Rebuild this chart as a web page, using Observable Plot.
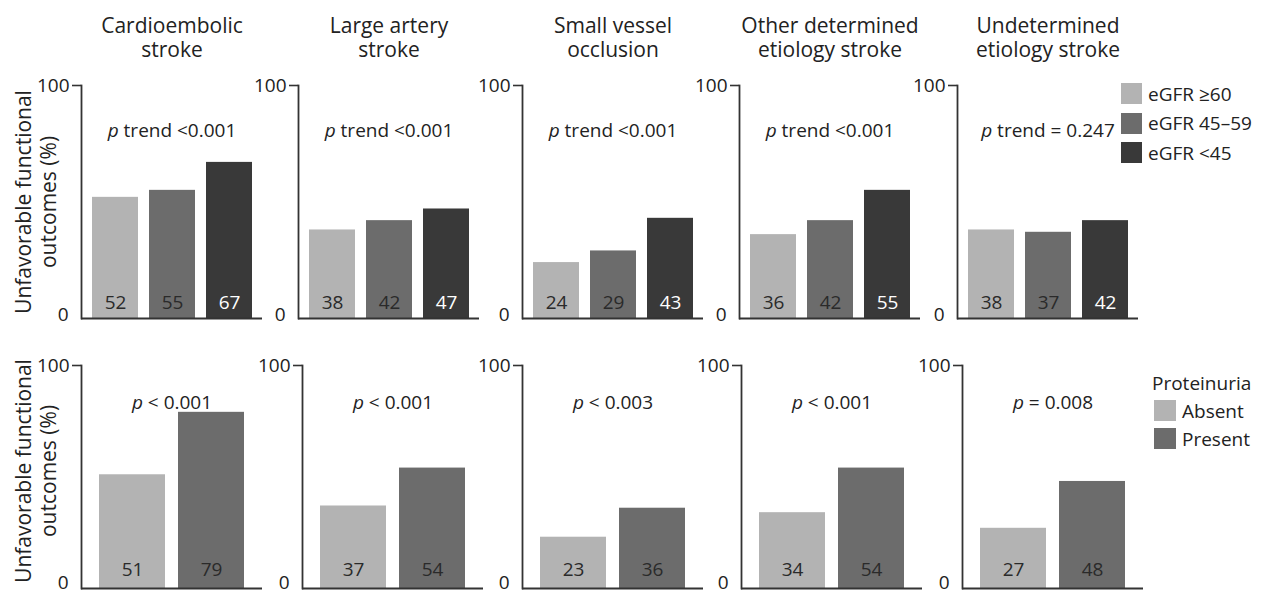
<!DOCTYPE html>
<html><head><meta charset="utf-8">
<script src="https://cdn.jsdelivr.net/npm/d3@7"></script>
<script src="https://cdn.jsdelivr.net/npm/@observablehq/plot@0.6"></script>
<style>
body{margin:0;background:#fff;}
#chart{position:relative;width:1261px;height:592px;overflow:hidden;font-family:"Open Sans",sans-serif;color:#222;background:#fff;}
#chart svg{position:absolute;}
.legtitle{position:absolute;font-size:19px;line-height:26px;white-space:nowrap;}
.legitem{position:absolute;display:flex;align-items:center;font-size:19px;white-space:nowrap;}
.legitem .sw{display:inline-block;margin-right:6px;}
</style></head><body><div id="chart"></div>
<script>
// ---- data ----
const etiologies = ["Cardioembolic\nstroke", "Large artery\nstroke", "Small vessel\nocclusion", "Other determined\netiology stroke", "Undetermined\netiology stroke"];
const egfrGroups = ["eGFR ≥60", "eGFR 45–59", "eGFR <45"];
const egfrValues = [[52, 55, 67], [38, 42, 47], [24, 29, 43], [36, 42, 55], [38, 37, 42]];
const egfrP = ["p trend <0.001", "p trend <0.001", "p trend <0.001", "p trend <0.001", "p trend = 0.247"];
const protTitle = "Proteinuria";
const protGroups = ["Absent", "Present"];
const protValues = [[51, 79], [37, 54], [23, 36], [34, 54], [27, 48]];
const protP = ["p < 0.001", "p < 0.001", "p < 0.003", "p < 0.001", "p = 0.008"];
const yTicks = [0, 100];
const yLabel = "Unfavorable functional\noutcomes (%)";

// ---- styles / layout ----
const egfrColors = ["#b3b3b3", "#6c6c6c", "#393939"];
const protColors = ["#b3b3b3", "#6c6c6c"];
const topAxisX = [81, 298, 522, 739, 957];
const botAxisX = [81, 302, 522, 741, 962];
const ML = 81, FW = 181, MR = 40;
const chart = document.getElementById("chart");

function panel(cfg) {
  const data = cfg.groups.map((g, i) => ({group: g, value: cfg.values[i]}));
  const dark = cfg.groups[2];
  const marks = [
    Plot.barY(data, {x: "group", y: "value", fill: "group"}),
    Plot.text(data.filter(d => d.group !== dark), {x: "group", y: 0, text: d => String(d.value), dy: cfg.valueDy, fill: "#2a2a2a", fontSize: 19}),
    Plot.text(data.filter(d => d.group === dark), {x: "group", y: 0, text: d => String(d.value), dy: cfg.valueDy, fill: "white", fontSize: 19}),
    Plot.ruleY([yTicks[0]], {stroke: "#333", strokeWidth: 1.8}),
    Plot.frame({anchor: "left", stroke: "#333", strokeWidth: 1.8}),
    Plot.axisY({ticks: [yTicks[1]], tickSize: 9, tickPadding: 3, label: null, fontSize: 19, stroke: "#333", strokeWidth: 1.6}),
    Plot.axisY({ticks: [yTicks[0]], tickSize: 0, tickPadding: 13, label: null, fontSize: 19, dy: cfg.zeroDy}),
    Plot.text([cfg.pText], {frameAnchor: "top", dy: cfg.pDy, fontSize: 19, className: "pval", ariaLabel: "p-value"})
  ];
  if (cfg.title) marks.push(Plot.text([cfg.title], {frameAnchor: "top", dy: -48, lineAnchor: "middle", fontSize: 21, lineHeight: 1.12, fill: "#222"}));
  if (cfg.yLabel) marks.push(Plot.text([cfg.yLabel], {frameAnchor: "left", rotate: -90, textAnchor: "middle", lineAnchor: "middle", dx: -46.5, dy: cfg.yLabelDy, fontSize: 21, lineHeight: 1.19, fill: "#222"}));
  const svg = Plot.plot({
    width: ML + FW + MR,
    height: cfg.marginTop + cfg.plotH + cfg.marginBottom,
    marginLeft: ML, marginRight: MR, marginTop: cfg.marginTop, marginBottom: cfg.marginBottom,
    style: {background: "transparent", fontFamily: '"Open Sans", sans-serif', fontSize: "19px", color: "#222", overflow: "visible"},
    x: {domain: cfg.groups, axis: null, paddingInner: cfg.pi, paddingOuter: cfg.po},
    y: {domain: [yTicks[0], yTicks[1]]},
    color: {domain: cfg.groups, range: cfg.colors},
    marks
  });
  const sel = d3.select(svg).selectAll('text[aria-label="p-value"], g[aria-label="p-value"] text, .pval text, text.pval');
  sel.each(function () {
    const t = this.textContent;
    const sp = t.indexOf(" ");
    if (sp < 0) return;
    this.textContent = "";
    d3.select(this).append("tspan").attr("font-style", "italic").style("font-style", "italic").text(t.slice(0, sp));
    d3.select(this).append("tspan").text(t.slice(sp));
  });
  svg.style.left = (cfg.axisX - ML) + "px";
  svg.style.top = cfg.top + "px";
  chart.appendChild(svg);
}

etiologies.forEach((e, i) => {
  panel({title: e, groups: egfrGroups, values: egfrValues[i], pText: egfrP[i], colors: egfrColors,
    axisX: topAxisX[i], top: 0, marginTop: 85, plotH: 233, marginBottom: 10, pi: 0.193, po: 0.184,
    valueDy: -16, pDy: 38, zeroDy: -4, yLabelDy: 0,
    yLabel: i === 0 ? yLabel : null});
  panel({title: null, groups: protGroups, values: protValues[i], pText: protP[i], colors: protColors,
    axisX: botAxisX[i], top: 330, marginTop: 35, plotH: 223, marginBottom: 4, pi: 0.165, po: 0.228,
    valueDy: -19, pDy: 30, zeroDy: -6, yLabelDy: -6,
    yLabel: i === 0 ? yLabel : null});
});

// ---- legends ----
function legendItems(groups, colors, left, top, pitch, sw, gap) {
  groups.forEach((g, i) => {
    const it = document.createElement("div");
    it.className = "legitem";
    it.style.left = left + "px";
    it.style.top = (top + i * pitch) + "px";
    it.style.height = sw[1] + "px";
    const s = document.createElement("span");
    s.className = "sw";
    s.style.width = sw[0] + "px"; s.style.height = sw[1] + "px"; s.style.background = colors[i];
    s.style.marginRight = gap + "px";
    it.appendChild(s);
    it.appendChild(document.createTextNode(g));
    chart.appendChild(it);
  });
}
legendItems(egfrGroups, egfrColors, 1121, 83, 29.5, [21, 21], 6);
const pt = document.createElement("div");
pt.className = "legtitle"; pt.style.left = "1152px"; pt.style.top = "370px"; pt.textContent = protTitle;
chart.appendChild(pt);
legendItems(protGroups, protColors, 1154, 400, 28, [22, 21], 6);
</script></body></html>
